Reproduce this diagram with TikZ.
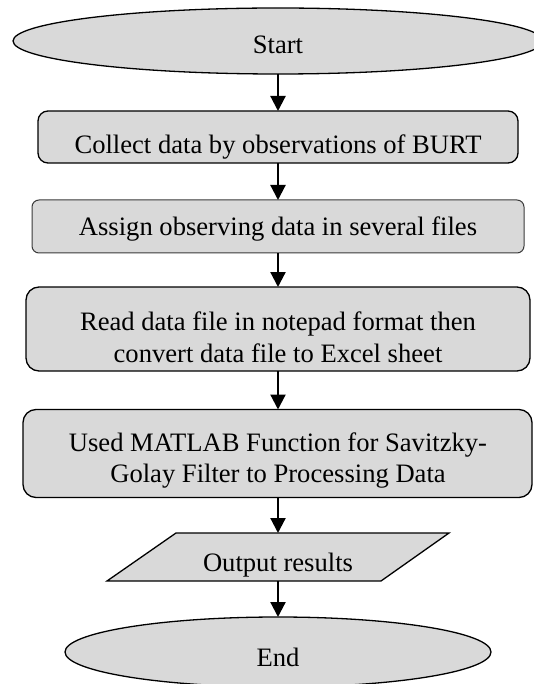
\documentclass[tikz,border=0pt]{standalone}
\usepackage{fontspec}
\setmainfont{Liberation Serif}
\usetikzlibrary{shapes.geometric,arrows.meta}
\definecolor{boxfill}{HTML}{D9D9D9}
\definecolor{softline}{HTML}{3A3A3A}
\tikzset{
  shapebase/.style={fill=boxfill,draw=black,line width=1.3pt,inner sep=0pt,outer sep=0pt},
  oval/.style={shapebase,ellipse},
  procbox/.style={shapebase,rectangle,rounded corners=12pt},
  lbl/.style={anchor=base,inner sep=0pt,font=\fontsize{26.6}{32}\selectfont,align=center},
  flow/.style={line width=2.2pt,-{Triangle[width=15pt,length=15pt]}},
  ghost/.style={rectangle,inner sep=0pt,outer sep=0pt}
}
\begin{document}
\begin{tikzpicture}[x=1pt,y=-1pt]
\useasboundingbox (0,0) rectangle (534,684);
\begin{scope}
\clip (0,0) rectangle (534,684);
% shapes
\node[oval,minimum width=530pt,minimum height=66pt] (start) at (278,41) {};
\node[procbox,rounded corners=10pt,minimum width=480pt,minimum height=52pt] (collect) at (278,137) {};
\node[procbox,rounded corners=7pt,draw=softline,line width=1pt,minimum width=492pt,minimum height=53pt] (assign) at (278,226.5) {};
\node[procbox,rounded corners=13pt,minimum width=504pt,minimum height=84pt] (read) at (278,329) {};
\node[procbox,rounded corners=13pt,minimum width=509pt,minimum height=88pt] (used) at (277.5,453.5) {};
\node[ghost,minimum width=342pt,minimum height=48pt] (output) at (278,557) {};
\draw[shapebase,line join=miter] (176,533) -- (449,533) -- (381,581) -- (107,581) -- cycle;
\node[oval,minimum width=426pt,minimum height=70pt] (finish) at (278,652) {};
% texts
\node[lbl] (tstart) at (278,54) {Start};
\node[lbl] (tcollect) at (278,154) {Collect data by observations of BURT};
\node[lbl] (tassign) at (278,236) {Assign observing data in several files};
\node[lbl] (tread1) at (278,330) {Read data file in notepad format then};
\node[lbl] (tread2) at (278,362) {convert data file to Excel sheet};
\node[lbl] (tused1) at (278,451) {Used MATLAB Function for Savitzky-};
\node[lbl] (tused2) at (278,482) {Golay Filter to Processing Data};
\node[lbl] (tout) at (278,571) {Output results};
\node[lbl] (tend) at (278,666) {End};
% connectors
\draw[flow] (start.south) -- (collect.north);
\draw[flow] (collect.south) -- (assign.north);
\draw[flow] (assign.south) -- (read.north);
\draw[flow] (read.south) -- (used.north -| read.north);
\draw[flow] (used.south -| read.south) -- (output.north);
\draw[flow] (output.south) -- (finish.north);
\end{scope}
\end{tikzpicture}
\end{document}
